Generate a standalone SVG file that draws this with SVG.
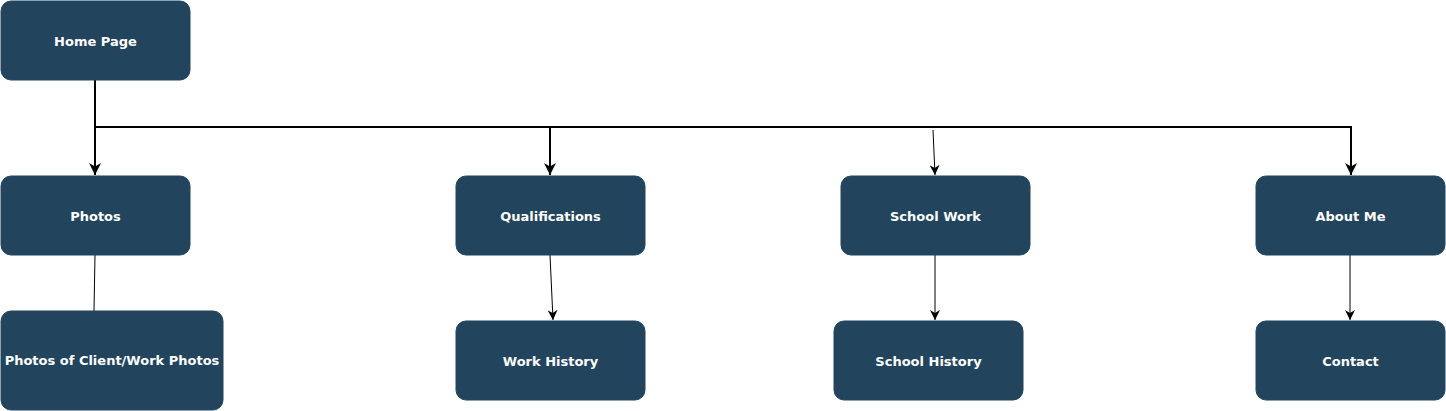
<svg xmlns="http://www.w3.org/2000/svg" width="1446" height="411" viewBox="0 0 1446 411">
<style>
.node rect{fill:#23445D;stroke:#23445D;stroke-width:1}
.node text{fill:#FFFFFF;font-family:"DejaVu Sans",Verdana,sans-serif;font-weight:bold;font-size:13px;text-anchor:middle;dominant-baseline:central}
.thick{stroke:#000;stroke-width:2;fill:none}
.thin{stroke:#000;stroke-width:1;fill:none}
</style>
<defs>
<marker id="ab" viewBox="0 0 10 10" refX="10" refY="5" markerWidth="6" markerHeight="6" markerUnits="strokeWidth" orient="auto"><path d="M0,0 L10,5 L0,10 L3,5 Z" fill="#000"/></marker>
<marker id="as" viewBox="0 0 10 10" refX="10" refY="5" markerWidth="10" markerHeight="10" markerUnits="strokeWidth" orient="auto"><path d="M0,0 L10,5 L0,10 L3,5 Z" fill="#000"/></marker>
</defs>
<g id="connectors">
<path class="thick" d="M95,80 V175" marker-end="url(#ab)"/>
<path class="thick" d="M95,127 H550 V175" marker-end="url(#ab)"/>
<path class="thick" d="M550,127 H1351 V175" marker-end="url(#ab)"/>
<path class="thin" d="M933,130 L935,175" marker-end="url(#as)"/>
<path class="thin" d="M95,255 L94,311"/>
<path class="thin" d="M550,255 L553,320" marker-end="url(#as)"/>
<path class="thin" d="M935,255 L935,320" marker-end="url(#as)"/>
<path class="thin" d="M1350,255 L1350,320" marker-end="url(#as)"/>
</g>
<g id="home" class="node"><rect x="1" y="1" width="189" height="79" rx="10"/><text x="95.5" y="41">Home Page</text></g>
<g id="photos" class="node"><rect x="1" y="176" width="189" height="79" rx="10"/><text x="95.5" y="216">Photos</text></g>
<g id="qualifications" class="node"><rect x="456" y="176" width="189" height="79" rx="10"/><text x="550.5" y="216">Qualifications</text></g>
<g id="schoolwork" class="node"><rect x="841" y="176" width="189" height="79" rx="10"/><text x="935.5" y="216">School Work</text></g>
<g id="aboutme" class="node"><rect x="1256" y="176" width="189" height="79" rx="10"/><text x="1350.5" y="216">About Me</text></g>
<g id="clientphotos" class="node"><rect x="1" y="311" width="222" height="99" rx="10"/><text x="112" y="360">Photos of Client/Work Photos</text></g>
<g id="workhistory" class="node"><rect x="456" y="321" width="189" height="79" rx="10"/><text x="550.5" y="361">Work History</text></g>
<g id="schoolhistory" class="node"><rect x="834" y="321" width="189" height="79" rx="10"/><text x="928.5" y="361">School History</text></g>
<g id="contact" class="node"><rect x="1256" y="321" width="189" height="79" rx="10"/><text x="1350.5" y="361">Contact</text></g>
</svg>
